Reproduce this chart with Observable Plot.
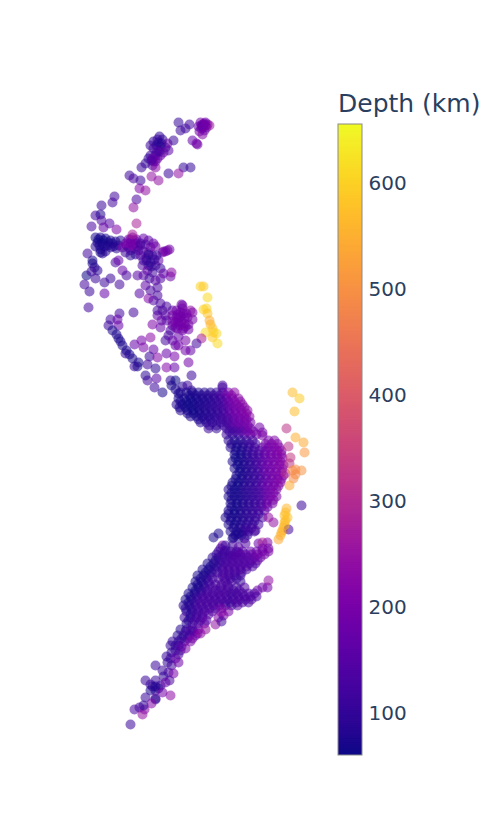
<!DOCTYPE html>
<html><head><meta charset="utf-8">
<script src="https://cdn.jsdelivr.net/npm/d3@7"></script>
<script src="https://cdn.jsdelivr.net/npm/@observablehq/plot@0.6"></script>
<style>
html,body{margin:0;padding:0;background:#fff;overflow:hidden}
#wrap{position:relative;width:498px;height:830px}
#wrap svg{position:absolute;left:0;top:0}
#ttl{position:absolute;left:338px;top:89px;font:25px "DejaVu Sans",sans-serif;color:#2a3f5f;white-space:nowrap}
</style></head><body>
<div id="wrap"><div id="ttl">Depth (km)</div></div>
<script>
// rows: [longitude, latitude, depth km]
const caribbean = [[-72.2,10.8,100],[-72,10,110],[-71.5,10.2,110],[-71.1,10.6,120],[-69.9,10.5,190],[-69.6,10.7,190],[-69.3,10.6,190],[-69.7,10.3,190],[-69.4,10.3,190],[-70.1,9.9,190],[-69.1,10.5,260],[-70,10.8,190],[-69.8,9.6,220],[-70.8,9,170],[-70.4,8.7,190],[-70.3,8.6,190],[-69.8,10.6,190],[-69.5,10.5,190],[-69.9,10.2,190],[-69.6,10,190],[-69.7,10.6,180],[-69.5,10.8,190],[-69.8,10.4,190],[-70.2,10.4,170],
[-74.1,9.4,90],[-74.7,8.9,100],[-74.3,9.1,110],[-73.8,9.1,100],[-75,8.5,110],[-74.4,8.5,90],[-74,8.4,80],[-73.5,8.3,100],[-73.3,8.7,190],[-73.2,8,160],[-74.7,8.2,120],[-74.2,8,170],[-73.7,7.8,160],[-75,7.5,110],[-74.5,7.5,150],[-74,7.5,180],[-75.2,7.2,100],[-74.7,6.9,190],[-74.3,7.2,170],[-74.8,6.5,130],[-74.5,6.3,230],[-75.5,6.7,100],[-75.9,6.3,110],[-72.7,9,110],[-74.2,8.8,90],[-73.9,8.7,90],[-74.4,7.8,120],[-74.8,7.2,170],[-74.5,6.9,180],[-74.1,7.9,130],[-74.9,7,130]];
const colombia = [[-71.7,6.3,100],[-71,6.3,100],[-72.2,5.7,240],[-73.2,5.7,110],[-74.9,5.4,240],[-74.2,5,240],[-77.1,5.5,110],[-76.7,5.2,130],[-76,5,110],[-76.1,4.2,220],[-75.5,4,240],[-76.4,3.1,130],[-76.7,2.3,240],[-78.6,3.4,120],[-78.8,2.8,120],[-79.9,2.5,110],[-80.5,1.5,120],[-80,1.6,80],[-79.9,1,130],[-79.1,.7,150],[-80.9,.4,130],[-79.7,.3,170],[-78.4,.1,210],[-76.4,.7,280]];
const ecuador = [[-80.5,-.7,70],[-80,-.7,70],[-79.5,-.8,70],[-79,-1,70],[-78.5,-1.1,80],[-78,-1,80],[-80.3,-1.2,70],[-79.8,-1.3,70],[-79.3,-1.5,80],[-78.7,-1.6,80],[-78.2,-1.5,90],[-80,-1.9,80],[-79.5,-2.1,90],[-80.5,-1.6,90],[-80.2,-.9,65],[-79.7,-1,65],[-79.2,-1.2,70],[-78.8,-1.3,75],[-80.1,-1.5,70],[-79.6,-1.6,70],[-79,-1.7,80],[-78.4,-1.8,90],[-79.8,-2.3,90],
[-77.2,-.9,190],[-76.8,-.7,190],[-76.4,-.9,190],[-77.5,-1.3,190],[-77,-1.2,190],[-76.5,-1.3,190],[-76,-1.5,180],[-77.8,-1.7,190],[-77.2,-1.7,190],[-76.6,-1.8,190],[-77,-.9,190],[-76.6,-1,190],[-76.8,-1.5,190],[-77.4,-1.5,190],[-76.3,-1.6,190],[-77,-2,180],[-76.8,-.4,280],
[-75.7,-.8,170],[-75.2,-1,160],[-74.7,-1.3,170],[-75.5,-1.4,140],[-75,-1.7,170],[-74.5,-1.6,190],[-76,-1.3,120],[-76.5,-2.4,100],[-77,-2.5,90],[-77.5,-2.2,110],[-76.2,-2,130],[-75.7,-2.1,130],[-75.2,-2.2,170],
[-73.8,-2.2,190],[-73.5,-2.1,190],[-73.1,-1.9,190],[-73.7,-2.1,190],[-73.3,-2,190]];
const northPeru = [[-81.3,-2.3,120],[-80.8,-3.3,70],[-80,-2.2,70],[-81.4,-4.5,60],[-81.6,-5.4,120],[-81.1,-6.1,110],[-80.5,-4.8,110],[-80.3,-4,90],[-79.6,-5.2,110],[-79,-4.8,110],[-79.6,-6.3,170],[-78.1,-5.4,120],[-78.5,-3.2,130],[-78.2,-3,170],[-77.8,-4,170],[-77.4,-4.5,130],[-76.3,-4.5,150],[-76.1,-6.3,150],[-75.2,-6.8,220],[-80.8,-3,70],[-80.6,-3.7,90],[-80.9,-4.1,110],
[-76,-2.5,150],[-75.4,-2.8,170],[-74.8,-2.5,150],[-74.2,-3,170],[-75.8,-3.5,140],[-75.2,-3.5,100],[-74.5,-3.5,130],[-75.3,-4,170],[-74.8,-4.2,120],[-74,-3.8,110],[-75.7,-4.5,150],[-75.1,-4.8,120],[-74.5,-5,150],[-74,-4.8,140],[-75.5,-5.5,160],[-75,-6,130],[-74.3,-5.7,130],[-73,-4.6,180],[-72.9,-4.2,230],[-73.7,-4.3,170],[-74.3,-6.5,130],[-74.7,-7,140],[-75.4,-3,90],[-75,-3.2,90],[-74.6,-2.9,100],[-75.2,-2.4,80],[-75.7,-3,120],[-74.9,-3.6,100],[-74.4,-2.5,110]];
const centralPeru = [[-81.2,-7.7,120],[-78.1,-8.3,120],[-76.7,-8.2,120],[-79,-8.9,120],[-78.3,-8.9,170],[-78.2,-9.5,170],[-79.2,-9.5,110],[-78.8,-10,70],[-78.2,-10.8,70],[-77.8,-11.5,70],[-77.1,-12.4,70],[-76.2,-13.2,70],[-76.6,-13.6,110],[-77.5,-12.3,100],[-76.6,-11.4,170],[-75.9,-11,190],[-75,-10.7,230],[-75.7,-11.7,200],[-74.7,-11.9,170],[-75.1,-12.6,110],[-75.3,-13.4,120],[-74.5,-13.8,90],[-74.3,-12.7,220],[-73.4,-12.3,170],[-72.6,-12.6,200],[-73.4,-13.7,220],[-72.6,-13.7,170],[-71.2,-13.2,190],[-70.9,-14.5,110],[-75.3,-15,120],[-74.4,-14.8,150],[-74.6,-15.7,110],[-73,-15,90],[-72.5,-15,60],[-73.8,-16.2,70],[-72,-16.2,80],[-67.8,-15.7,120],[-78.4,-10.4,70],[-78,-11.1,70],[-77.4,-12,70],[-76.8,-12.8,70],[-76.3,-13.6,70],[-75.5,-14.5,90],
[-74.3,-8.5,170],[-73,-10,130],[-72.5,-11.5,170],[-71,-12,170],[-71.5,-11,200],[-73.5,-11,120],[-74,-7.3,130],[-74.3,-8,130],[-74.8,-9.4,210],[-74,-9.7,170],[-72.8,-9.5,170],[-73.8,-8,130],[-72.8,-8,170],[-72.2,-8.8,170],[-73.2,-10.5,130],[-72.8,-11,170],[-72.2,-10.6,170],[-73.9,-9,170],[-73.4,-9,150],[-73.4,-7.6,130],[-72.2,-11.5,190],[-71.5,-12,190],[-73.5,-8.5,150],
[-71.8,-7.5,170],[-71.7,-8.3,190],[-71.2,-9.4,190],[-72.4,-8,190],[-72.8,-8.5,190],[-72.2,-9.2,190],[-71.6,-9.3,190],[-72.8,-9.1,190],[-72.3,-9.8,190],[-71.7,-9.8,190],[-71.2,-9.9,190],[-72.5,-9.7,180],[-71.3,-8.7,190],[-70.8,-8.9,200],[-71,-8,240],[-70.8,-8.2,210],[-71.8,-7.8,190],[-72,-8.6,190],[-72,-8.2,190],[-71.6,-8.7,190],[-72.4,-8.7,190],[-72.1,-9.5,190],[-71.5,-9.6,190],[-71.9,-9.1,190],[-71.4,-8.3,190],[-72.3,-8.4,190],[-71.9,-7.4,190],[-72.5,-9.2,190],[-71.8,-10,190],
[-70,-5.6,600],[-69.7,-5.6,590],[-69.3,-6.7,610],[-69.4,-7.8,600],[-69.7,-7.9,600],[-69.3,-8.3,580],[-69.1,-9,550],[-69,-9.4,560],[-68.8,-9.8,580],[-68.7,-10.2,590],[-69.5,-10.2,610],[-68.4,-10.3,610],[-68.8,-10.7,590],[-68.3,-11.3,610],[-69.9,-10.8,280],[-70.4,-11.3,120]];
const southPeru = [[-72.9,-15.5,70],[-72.5,-15.9,70],[-72.2,-16.3,70],[-71.8,-15.6,90],[-71.3,-15.5,110],[-70.9,-16,100],[-67.8,-15.5,120],
[-71.4,-16.2,70],[-70.8,-16.2,70],[-70.2,-16.2,75],[-69.6,-16.2,80],[-69,-16.2,85],[-68.4,-16.2,100],[-67.8,-16.2,140],[-67.2,-16.2,190],[-66.6,-16.2,230],
[-72.2,-16.8,70],[-71.6,-16.8,70],[-71,-16.8,70],[-70.4,-16.8,75],[-69.8,-16.8,80],[-69.2,-16.8,90],[-68.6,-16.8,100],[-68,-16.8,130],[-67.4,-16.8,180],[-66.8,-16.8,210],[-66.2,-16.8,230],
[-72.4,-17.4,80],[-71.8,-17.4,70],[-71.2,-17.4,65],[-70.6,-17.4,70],[-70,-17.4,75],[-69.4,-17.4,85],[-68.8,-17.4,100],[-68.2,-17.4,110],[-67.6,-17.4,140],[-67,-17.4,190],[-66.4,-17.4,210],[-65.8,-17.4,240],
[-72,-18,90],[-71.3,-18,70],[-70.7,-18,65],[-70.1,-18,70],[-69.5,-18,80],[-68.9,-18,90],[-68.3,-18,100],[-67.7,-18,120],[-67.1,-18,170],[-66.5,-18,190],[-65.9,-18,200],[-65.3,-18,230],
[-71,-18.6,80],[-70.4,-18.6,70],[-69.8,-18.6,75],[-69.2,-18.6,85],[-68.6,-18.6,95],[-68,-18.6,105],[-67.4,-18.6,130],[-66.8,-18.6,170],[-66.2,-18.6,190],[-65.6,-18.6,200],[-65.1,-18.6,230],
[-70,-19.2,90],[-69.4,-19.2,85],[-68.8,-19.2,90],[-68,-19.2,105],[-67.4,-19.2,115],[-66.8,-19.2,150],[-66.2,-19.2,180],[-65.6,-19.2,190],[-65,-19.2,200],
[-69.2,-19.8,110],[-68.4,-19.8,100],[-67.4,-19.8,115],[-66.8,-19.8,130],[-66.2,-19.8,160],[-65.6,-19.8,180],[-65,-19.8,190],
[-67.4,-20.4,115],[-66.8,-20.4,105],[-66.2,-20.4,120],[-65.6,-20.4,150],[-65,-20.4,180],[-64.4,-20.4,190],[-64.1,-19.7,190],[-63.8,-20.2,200],[-63.8,-20.5,200]];
const southPeruFill = [[-71.1,-16.5,70],[-70.5,-16.5,72],[-69.9,-16.5,78],[-69.3,-16.5,88],[-68.7,-16.5,100],[-68.1,-16.5,120],[-67.5,-16.5,170],[-66.9,-16.5,215],
[-72,-17.1,68],[-71.4,-17.1,65],[-70.8,-17.1,65],[-70.2,-17.1,70],[-69.6,-17.1,75],[-69,-17.1,85],[-68.4,-17.1,100],[-67.8,-17.1,120],[-67.2,-17.1,170],[-66.6,-17.1,200],[-66,-17.1,220],
[-72.1,-17.7,70],[-71.5,-17.7,65],[-70.9,-17.7,65],[-70.3,-17.7,70],[-69.7,-17.7,80],[-69.1,-17.7,90],[-68.5,-17.7,100],[-67.9,-17.7,115],[-67.3,-17.7,150],[-66.7,-17.7,190],[-66.1,-17.7,200],[-65.6,-17.7,220],
[-71.3,-18.3,70],[-70.7,-18.3,65],[-70.1,-18.3,70],[-69.5,-18.3,80],[-68.9,-18.3,90],[-68.3,-18.3,100],[-67.7,-18.3,120],[-67.1,-18.3,160],[-66.5,-18.3,190],[-65.9,-18.3,200],[-65.4,-18.3,220],
[-70.2,-18.9,75],[-69.6,-18.9,80],[-69,-18.9,90],[-68.4,-18.9,100],[-67.8,-18.9,115],[-67.2,-18.9,130],[-66.6,-18.9,170],[-66,-18.9,190],[-65.4,-18.9,200],
[-69.1,-19.5,100],[-68.4,-19.5,100],[-67.7,-19.5,110],[-67.1,-19.5,130],[-66.5,-19.5,170],[-65.9,-19.5,180],[-65.3,-19.5,200],
[-67.1,-20.1,110],[-66.5,-20.1,115],[-65.9,-20.1,140],[-65.3,-20.1,180],[-64.7,-20.1,190]];
const altiplano = [[-67.2,-21,90],[-66.6,-21,80],[-66,-21,90],[-65.4,-21,110],[-64.8,-21,120],[-63.2,-21,200],[-62.6,-21,210],
[-67,-21.7,90],[-66.4,-21.7,70],[-65.8,-21.7,80],[-65.2,-21.7,100],[-64.6,-21.7,120],[-63.8,-21.7,170],[-63.2,-21.7,190],[-62.6,-21.7,210],[-62.1,-21.7,220],
[-66.6,-22.4,70],[-66,-22.4,65],[-65.4,-22.4,85],[-64.8,-22.4,110],[-64.2,-22.4,130],[-63.6,-22.4,170],[-63,-22.4,190],[-62.4,-22.4,200],[-61.9,-22.4,220],
[-66.8,-23.1,70],[-66.2,-23.1,62],[-65.6,-23.1,80],[-65,-23.1,95],[-64.4,-23.1,120],[-63.8,-23.1,160],[-63.2,-23.1,185],[-62.6,-23.1,195],[-62,-23.1,215],
[-66.6,-23.8,70],[-66,-23.8,65],[-65.4,-23.8,80],[-64.8,-23.8,95],[-64.2,-23.8,120],[-63.6,-23.8,160],[-63,-23.8,185],[-62.4,-23.8,200],[-61.8,-23.8,220],
[-66.4,-24.5,75],[-65.8,-24.5,70],[-65.2,-24.5,85],[-64.6,-24.5,100],[-64,-24.5,120],[-63.4,-24.5,165],[-62.8,-24.5,185],[-62.2,-24.5,200],[-61.7,-24.5,230],
[-66.8,-25.2,70],[-66.2,-25.2,65],[-65.6,-25.2,80],[-65,-25.2,95],[-64.4,-25.2,110],[-63.8,-25.2,150],[-63.2,-25.2,180],[-62.6,-25.2,195],[-62,-25.2,215],
[-67.2,-25.9,80],[-66.6,-25.9,65],[-66,-25.9,75],[-65.4,-25.9,95],[-64.8,-25.9,105],[-64.2,-25.9,125],[-63.6,-25.9,170],[-63,-25.9,185],[-62.4,-25.9,205],
[-67.2,-26.6,75],[-66.6,-26.6,65],[-66,-26.6,75],[-65.4,-26.6,90],[-64.8,-26.6,100],[-64.2,-26.6,120],[-63.6,-26.6,165],[-63,-26.6,185],[-62.4,-26.6,210],
[-67,-27.3,75],[-66.4,-27.3,65],[-65.8,-27.3,75],[-65.2,-27.3,90],[-64.6,-27.3,105],[-64,-27.3,125],[-63.4,-27.3,180],[-62.8,-27.3,200],
[-67.2,-28,75],[-66.6,-28,65],[-66,-28,75],[-65.4,-28,90],[-64.8,-28,105],[-64.2,-28,125],[-63.6,-28,170],
[-67.5,-28.7,80],[-66.9,-28.7,70],[-66.3,-28.7,75],[-65.7,-28.7,85],[-65.1,-28.7,95],[-64.5,-28.7,110],[-63.8,-28.7,130],[-63.2,-28.7,240],
[-67.2,-29.4,75],[-66.6,-29.4,65],[-66,-29.4,80],[-65.4,-29.4,95],[-64.8,-29.4,105],[-64.2,-29.4,120],
[-67,-30.1,80],[-66.4,-30.1,70],[-65.8,-30.1,90],[-65.2,-30.1,105],[-64.6,-30.1,110],
[-68.7,-30.7,70],[-68.2,-30.3,70],[-66.8,-30.8,80],[-66.2,-30.8,100],[-65.6,-30.8,100],[-65.5,-30,130]];
const altiplanoFill = [[-66.9,-21.35,80],[-66.3,-21.35,70],[-65.7,-21.35,85],[-65.1,-21.35,105],[-64.5,-21.35,120],[-63.5,-21.35,190],[-62.9,-21.35,200],[-62.3,-21.35,220],
[-66.5,-22.05,68],[-65.9,-22.05,70],[-65.3,-22.05,90],[-64.7,-22.05,110],[-64.1,-22.05,130],[-63.5,-22.05,175],[-62.9,-22.05,190],[-62.3,-22.05,205],[-61.9,-22.05,225],
[-66.5,-22.75,65],[-65.9,-22.75,68],[-65.3,-22.75,85],[-64.7,-22.75,105],[-64.1,-22.75,125],[-63.5,-22.75,170],[-62.9,-22.75,190],[-62.3,-22.75,200],[-61.8,-22.75,220],
[-66.3,-23.45,65],[-65.7,-23.45,72],[-65.1,-23.45,90],[-64.5,-23.45,110],[-63.9,-23.45,150],[-63.3,-23.45,180],[-62.7,-23.45,195],[-62.1,-23.45,210],[-61.7,-23.45,230],
[-66.1,-24.15,65],[-65.5,-24.15,75],[-64.9,-24.15,95],[-64.3,-24.15,115],[-63.7,-24.15,160],[-63.1,-24.15,185],[-62.5,-24.15,200],[-61.9,-24.15,220],
[-66.5,-24.85,68],[-65.9,-24.85,68],[-65.3,-24.85,85],[-64.7,-24.85,100],[-64.1,-24.85,115],[-63.5,-24.85,160],[-62.9,-24.85,185],[-62.3,-24.85,200],[-61.9,-24.85,220],
[-66.9,-25.55,68],[-66.3,-25.55,65],[-65.7,-25.55,78],[-65.1,-25.55,95],[-64.5,-25.55,105],[-63.9,-25.55,140],[-63.3,-25.55,175],[-62.7,-25.55,190],[-62.2,-25.55,210],
[-66.9,-26.25,68],[-66.3,-26.25,68],[-65.7,-26.25,80],[-65.1,-26.25,95],[-64.5,-26.25,105],[-63.9,-26.25,130],[-63.3,-26.25,175],[-62.7,-26.25,195],
[-66.9,-26.95,68],[-66.3,-26.95,68],[-65.7,-26.95,78],[-65.1,-26.95,92],[-64.5,-26.95,105],[-63.9,-26.95,130],[-63.3,-26.95,180],[-62.7,-26.95,200],
[-66.9,-27.65,68],[-66.3,-27.65,68],[-65.7,-27.65,80],[-65.1,-27.65,95],[-64.5,-27.65,105],[-63.9,-27.65,130],[-63.3,-27.65,180],
[-67.2,-28.35,70],[-66.6,-28.35,65],[-66,-28.35,75],[-65.4,-28.35,90],[-64.8,-28.35,100],[-64.2,-28.35,115],
[-67,-29.05,70],[-66.4,-29.05,68],[-65.8,-29.05,80],[-65.2,-29.05,95],[-64.6,-29.05,105],
[-66.7,-29.75,70],[-66.1,-29.75,80],[-65.5,-29.75,100],[-64.9,-29.75,110],
[-66.5,-30.45,75],[-65.9,-30.45,90],[-65.3,-30.45,105]];
const deepSlab = [[-60.8,-16.2,570],[-60.1,-16.8,590],[-60.6,-18.1,570],[-61.4,-19.8,320],[-60.5,-20.7,550],[-59.7,-21.2,540],[-59.6,-22.2,510],[-61.2,-21.6,310],[-61,-22.7,330],[-61.1,-23.3,320],[-60.5,-23.9,490],[-59.9,-24,500],[-61.5,-24.3,300],[-60.7,-24.8,490],[-61.1,-25.5,540],[-59.9,-27.5,110],[-61.4,-27.8,560],[-61.5,-28.2,570],[-61.3,-28.7,580],[-61.5,-29,570],[-61.6,-29.2,570],[-61.7,-29.7,560],[-62,-30.5,560],[-61.8,-30,560],[-62.2,-30.9,540],[-61.2,-29.9,120],[-62.7,-29.2,240],[-60.5,-24.4,490],[-60.8,-24,490],[-61.6,-29.5,570],[-61.9,-30.2,560],[-61.6,-28.5,570]];
const argentina = [[-66.7,-30.7,70],[-66.2,-30.3,70],[-64.5,-30,130],[-67.5,-32,100],[-67.8,-31.5,190],[-66.8,-31.5,120],[-66.2,-31.7,150],[-65.5,-31.3,140],
[-67.5,-31.5,100],[-66.8,-32.5,110],[-66.2,-32.2,130],[-64.2,-31.3,170],[-63.8,-31.2,280],[-63.3,-31.2,220],[-63.8,-31.8,190],[-63.2,-31.8,190],
[-68.2,-32.1,120],[-67.6,-32.1,110],[-67,-32.1,120],[-66.4,-32.1,130],[-65.8,-32.1,150],[-65,-32.1,170],[-64.4,-32.1,180],[-63.8,-32.1,190],[-63.2,-32.1,200],
[-68.8,-32.7,90],[-68.2,-32.7,100],[-67.6,-32.7,120],[-67,-32.7,130],[-66.4,-32.7,140],[-65.8,-32.7,130],[-65.2,-32.7,140],[-64.6,-32.7,160],[-64,-32.7,190],
[-69.3,-33.3,70],[-68.7,-33.3,80],[-68.1,-33.3,110],[-67.5,-33.3,130],[-66.9,-33.3,140],[-66.3,-33.3,130],[-65.7,-33.3,140],[-65.1,-33.3,150],[-64.5,-33.3,130],
[-69.8,-33.9,70],[-69.2,-33.9,70],[-68.6,-33.9,100],[-67.8,-33.9,130],[-67.2,-33.9,130],[-66.6,-33.9,130],[-66,-33.9,140],[-65.4,-33.9,130],
[-70.3,-34.5,70],[-69.7,-34.5,70],[-69.1,-34.5,100],[-67.8,-34.5,130],[-67.2,-34.5,130],[-66.6,-34.5,130],[-66,-34.5,120],
[-70.5,-35.1,70],[-69.9,-35.1,80],[-69.2,-35.1,110],[-67.5,-35.1,130],[-66.9,-35.1,120],[-66,-35.1,100],
[-70.8,-35.7,70],[-70.2,-35.7,70],[-69.6,-35.7,100],[-68.8,-35.7,130],[-68,-35.7,130],[-67.2,-35.7,130],[-66.4,-35.7,120],[-65.6,-35.7,140],[-63.8,-35.7,180],[-63.3,-35.7,190],[-63.2,-35,240],[-64.3,-36,180],
[-71.2,-36.3,70],[-70.6,-36.3,75],[-70,-36.3,110],[-69.4,-36.3,130],[-68.8,-36.3,130],[-68.2,-36.3,130],[-67.6,-36.3,130],[-67,-36.3,120],[-66.4,-36.3,130],[-65.8,-36.3,130],[-65.2,-36.3,140],[-64.6,-36.3,140],
[-71.5,-36.9,70],[-70.9,-36.9,80],[-70.3,-36.9,120],[-69.7,-36.9,130],[-69.1,-36.9,130],[-68.5,-36.9,130],[-67.9,-36.9,130],[-67.3,-36.9,130],[-66.7,-36.9,120],[-66.1,-36.9,130],[-65.5,-36.9,130],[-64.9,-36.9,140],
[-71.7,-37.5,90],[-71.1,-37.5,90],[-70.5,-37.5,120],[-69.9,-37.5,130],[-69.3,-37.5,130],[-68.7,-37.5,130],[-68.1,-37.5,130],[-67.5,-37.5,120],[-66.9,-37.5,100],[-66.3,-37.5,150],
[-71.4,-38.1,100],[-70.8,-38.1,90],[-70.2,-38.1,120],[-69.6,-38.1,130],[-68.8,-38.1,150],[-67.2,-38.1,200],[-67.9,-38.2,240],[-67.7,-38.5,210],
[-71.6,-38.7,110],[-71,-38.7,90],[-70.4,-38.7,120],[-69.8,-38.7,130],[-68.2,-38.7,210],[-68.5,-39.4,240],[-67.9,-39.1,120]];
const argentinaFill = [[-68,-31.8,120],[-67.2,-32.4,125],[-66.6,-32.4,135],[-65.5,-32.4,150],[-64.9,-32.4,160],[-64.3,-32.4,190],[-68.4,-32.4,100],[-67.8,-32.4,115],[-66,-32.4,145],[-63.6,-32.4,190],
[-68.5,-33,85],[-67.9,-33,110],[-67.3,-33,125],[-66.7,-33,135],[-66.1,-33,135],[-65.5,-33,140],[-64.9,-33,155],[-64.3,-33,170],
[-69,-33.6,70],[-68.4,-33.6,90],[-67.8,-33.6,120],[-67.2,-33.6,130],[-66.6,-33.6,135],[-66,-33.6,135],[-65.4,-33.6,140],[-64.8,-33.6,135],
[-69.5,-34.2,70],[-68.9,-34.2,85],[-68.3,-34.2,115],[-67.7,-34.2,130],[-67.1,-34.2,130],[-66.5,-34.2,130],[-65.9,-34.2,130],
[-70,-34.8,70],[-69.4,-34.8,85],[-68.8,-34.8,125],[-68.2,-34.8,130],[-67.6,-34.8,130],[-67,-34.8,125],[-66.4,-34.8,115],
[-70.3,-35.4,70],[-69.7,-35.4,80],[-69.1,-35.4,120],[-68.5,-35.4,130],[-67.9,-35.4,130],[-67.3,-35.4,130],
[-70.5,-36,70],[-69.9,-36,90],[-69.3,-36,125],[-68.5,-36,130],[-67.9,-36,130],[-67.3,-36,130],[-66.7,-36,120],[-66.1,-36,130],
[-71,-36.6,70],[-70.4,-36.6,95],[-69.8,-36.6,125],[-69.2,-36.6,130],[-68.6,-36.6,130],[-68,-36.6,130],[-67.4,-36.6,130],[-66.8,-36.6,120],[-66.2,-36.6,130],[-65.6,-36.6,130],[-65,-36.6,135],[-64.4,-36.6,140],
[-71.2,-37.2,75],[-70.6,-37.2,100],[-70,-37.2,130],[-69.4,-37.2,130],[-68.8,-37.2,130],[-68.2,-37.2,130],[-67.6,-37.2,125],[-67,-37.2,120],[-66.4,-37.2,130],[-65.8,-37.2,130],[-65.2,-37.2,135],
[-71.5,-37.8,85],[-70.9,-37.8,95],[-70.3,-37.8,125],[-69.7,-37.8,130],[-69.1,-37.8,130],[-68.5,-37.8,140],[-67.9,-37.8,190],
[-71,-38.4,90],[-70.4,-38.4,120],[-69.8,-38.4,130],[-69.2,-38.4,150],
[-71.2,-39,90],[-70.6,-39,125],[-70,-39,130],[-69.4,-39,160]];
const patagonia = [[-71.4,-39.3,85],[-70.8,-39.3,120],[-70.2,-39.3,130],[-69.6,-39.3,160],
[-72,-39.9,80],[-71.4,-39.9,100],[-70.8,-39.9,130],[-70.2,-39.9,170],[-69.5,-39.9,240],
[-72.3,-40.5,90],[-71.7,-40.5,100],[-71.1,-40.5,130],[-70.5,-40.5,210],[-71.5,-40.1,110],[-70.7,-40.1,130],[-71,-40,120],[-70.3,-40.3,190],[-71.9,-40.8,90],[-71.3,-40.8,110],[-70.8,-40.8,170],
[-72.8,-41.1,100],[-72.2,-41.1,100],[-71.6,-41.1,120],[-71,-41.1,210],[-70,-40.3,230],[-72.5,-41.5,100],
[-73,-41.5,100],[-72.5,-42,110],[-72,-42,130],[-71.5,-41.8,210],[-72.9,-42.2,100],[-73.4,-42.6,100],[-73,-42.8,110],[-72.5,-42.8,170],[-72.2,-41.5,110],[-71.9,-41.6,160],[-72.2,-42.4,130],
[-73.3,-43.2,100],[-72.9,-43.5,120],[-72.2,-43.2,180],[-73.8,-44,110],[-73.2,-44.2,120],[-72.7,-44.3,200],[-74.5,-43.5,110],[-73.7,-44.6,100],[-73.1,-45,130],[-75.5,-45,110],[-75,-45.4,110],[-74.5,-45,110],[-74,-45.5,110],[-74.5,-46,100],[-75,-46,75],[-74.2,-45.8,90],[-74.8,-45.6,90],[-74.5,-45.6,80],
[-73.5,-45.2,170],[-73.8,-46.2,190],[-73,-46.5,230],[-74.5,-46.8,170],[-75.5,-46.7,110],[-74.5,-46.9,70],[-74.9,-47.3,220],[-75.6,-47.9,220],[-76.1,-47.7,130],[-76.6,-47.9,130],[-75.8,-48.4,250],[-77,-49.4,110],[-75.7,-47.5,100]];

const rows = [...caribbean, ...colombia, ...ecuador, ...northPeru, ...centralPeru, ...southPeru, ...southPeruFill, ...altiplano, ...altiplanoFill, ...argentina, ...argentinaFill, ...patagonia, ...deepSlab];
const depthDomain = [60.4, 655.7];
const depthTicks = [100, 200, 300, 400, 500, 600];
const colorOpts = {type: "linear", scheme: "plasma", domain: depthDomain};

const map = Plot.plot({
  width: 498, height: 830, margin: 0,
  style: {background: "transparent"},
  x: {domain: [-90, -40.2], range: [0, 498], axis: null},
  y: {domain: [23, -60], range: [0, 830], axis: null},
  color: colorOpts,
  marks: [Plot.dot(rows, {x: d => d[0], y: d => d[1], fill: d => d[2], r: 5, fillOpacity: 0.55, stroke: "none"})]
});

const steps = d3.range(depthDomain[0], depthDomain[1], 2);
const bar = Plot.plot({
  width: 498, height: 830, margin: 0,
  style: {background: "transparent", fontFamily: "'DejaVu Sans',sans-serif"},
  x: {domain: [0, 1], range: [338, 362], axis: null},
  y: {domain: depthDomain, range: [755, 124], axis: null},
  color: colorOpts,
  marks: [
    Plot.rect(steps, {x1: 0, x2: 1, y1: d => d, y2: d => Math.min(d + 3, depthDomain[1]), fill: d => d + 1}),
    Plot.rect([0], {x1: 0, x2: 1, y1: depthDomain[0], y2: depthDomain[1], stroke: "#8a8a8a", strokeWidth: 1, fill: "none"}),
    Plot.text(depthTicks, {x: 1, y: d => d, text: d => String(d), textAnchor: "start", dx: 6, fontSize: 20, fill: "#2a3f5f"})
  ]
});
const wrap = document.getElementById("wrap");
wrap.appendChild(map);
wrap.appendChild(bar);
</script>
</body></html>
